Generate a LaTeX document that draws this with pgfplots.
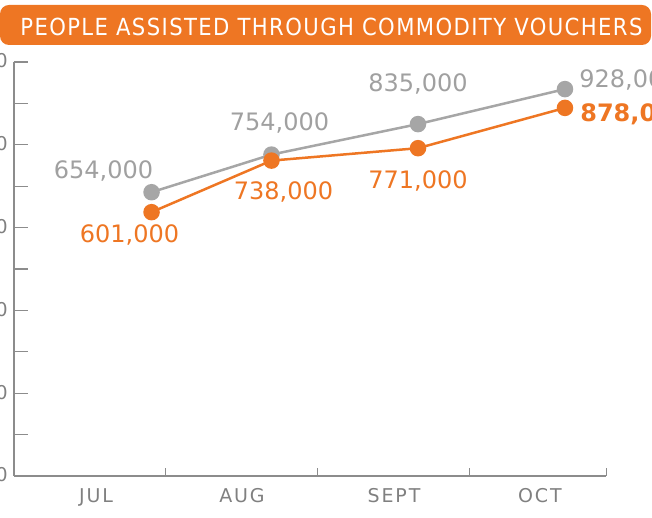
\documentclass[border=0pt]{standalone}
\usepackage{fontspec}
\setmainfont{DejaVu Sans}
\newfontfamily\condfont{DejaVu Sans Condensed}[LetterSpace=6]
\newfontfamily\lblfont{DejaVu Sans}[LetterSpace=10]
\usepackage{pgfplots}
\usepackage{pgfplotstable}
\pgfplotsset{compat=1.18}
\definecolor{vorange}{RGB}{238,118,35}
\definecolor{vgray}{RGB}{166,166,166}
\definecolor{vtext}{RGB}{160,160,160}
\definecolor{axgray}{RGB}{140,140,140}
\definecolor{lblgray}{RGB}{128,128,128}

\pgfplotstableread{
x y lab dx dy
0.905 654000 654,000 -48 21
1.694 754000 754,000 8 32
2.658 835000 835,000 0 40
3.625 928000 928,000 64 9
}\graydata
\pgfplotstableread{
x y lab dx dy
0.905 601000 601,000 -22 -23
1.694 738000 738,000 12 -31
2.658 771000 771,000 0 -33
3.625 878000 \textbf{878,000} 70 -6
}\orangedata

\begin{document}
\begin{tikzpicture}
\begin{axis}[
  at={(14pt,42pt)}, anchor=south west,
  width=592pt, height=414pt, scale only axis,
  xmin=0, xmax=3.895, ymin=-100000, ymax=1000000,
  clip=false,
  axis x line=bottom, axis y line=left,
  axis line style={-, draw=axgray, line width=1.3pt},
  tick align=inside,
  xtick={0.54,1.5,2.5,3.46},
  xticklabels={JUL,AUG,SEPT,OCT},
  xtick style={draw=none},
  extra x ticks={1,2,3,3.895},
  extra x tick labels={},
  extra x tick style={xtick style={draw=axgray, line width=1pt}, major tick length=8pt},
  ytick={-100000,120000,340000,560000,780000,1000000},
  scaled y ticks=false,
  minor y tick num=1,
  ytick style={draw=axgray, line width=1.1pt},
  major tick length=14pt, minor tick length=14pt,
  yticklabel style={anchor=east, inner sep=0pt, xshift=-6pt, text=lblgray, font=\lblfont\fontsize{19}{21}\selectfont,
    /pgf/number format/fixed, /pgf/number format/precision=0,
    /pgf/number format/assume math mode=true, /pgf/number format/1000 sep={,}},
  xticklabel style={anchor=north, inner sep=0pt, yshift=-12pt, text=lblgray, font=\lblfont\fontsize{19}{21}\selectfont},
]
\addplot[color=vgray, line width=2.5pt, mark=*, mark size=7pt, mark options={draw=none, fill=vgray},
  point meta=explicit symbolic, nodes near coords,
  visualization depends on={\thisrow{dx}\as\ldx},
  visualization depends on={\thisrow{dy}\as\ldy},
  every node near coord/.append style={anchor=center, xshift=\ldx pt, yshift=\ldy pt, text=vtext, font=\fontsize{24}{28}\selectfont, inner sep=0pt}]
  table[x=x, y=y, meta=lab] {\graydata};
\addplot[color=vorange, line width=2.5pt, mark=*, mark size=7pt, mark options={draw=none, fill=vorange},
  point meta=explicit symbolic, nodes near coords,
  visualization depends on={\thisrow{dx}\as\ldx},
  visualization depends on={\thisrow{dy}\as\ldy},
  every node near coord/.append style={anchor=center, xshift=\ldx pt, yshift=\ldy pt, text=vorange, font=\fontsize{24}{28}\selectfont, inner sep=0pt}]
  table[x=x, y=y, meta=lab] {\orangedata};
\end{axis}
\fill[vorange, rounded corners=9pt] (0pt,473pt) rectangle (651pt,513pt);
\node[text=white, font=\condfont\fontsize{23.5}{26}\selectfont, anchor=center] at (331.5pt,491.5pt) {PEOPLE ASSISTED THROUGH COMMODITY VOUCHERS};
\pgfresetboundingbox
\path[use as bounding box] (0pt,0pt) rectangle (652pt,518pt);
\end{tikzpicture}
\end{document}
